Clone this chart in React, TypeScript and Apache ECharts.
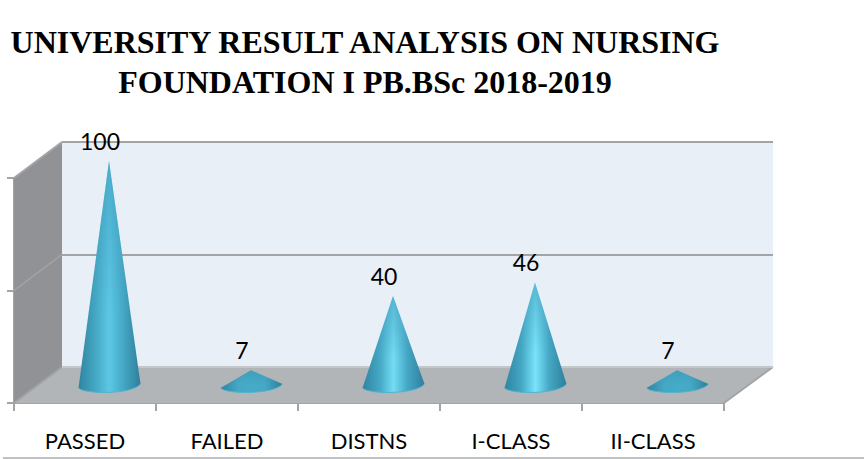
import React, { useEffect, useRef } from "react";
import * as echarts from "echarts";

const titleText = "UNIVERSITY RESULT ANALYSIS ON NURSING\nFOUNDATION I PB.BSc 2018-2019";
const categories = ["PASSED", "FAILED", "DISTNS", "I-CLASS", "II-CLASS"];
const values = [100, 7, 40, 46, 7];
const valueTicks = [0, 50, 100];

const W = 864, H = 459;
const front = { l: 14, r: 724, t: 178, b: 403 };
const back = { l: 62, r: 773, t: 142, b: 367 };
const highlight = ["#5cc8e6", "#45abc8", "#74dcf5", "#7ae4fb", "#45abc8"];
const LINE = "#a2a4a6";

function renderCone(_: any, api: any) {
  const i = api.value(0);
  const v = api.value(1);
  const base = api.coord([i, 0]);
  const top = api.coord([i, v]);
  const cx = base[0] + 24.5, cy = base[1] - 17;
  const ax = cx - 0.5, ay = top[1] - 17;
  const rx = 31, ry = 6.5, tilt = 2;
  const lx = cx - rx, ly = cy + tilt, rxx = cx + rx, ry2 = cy - tilt;
  const bottom = `C${lx + 6} ${cy + ry + 2} ${rxx - 8} ${cy + ry + 2} ${rxx} ${ry2}`;
  const d = `M${ax} ${ay}L${lx} ${ly}${bottom}Z`;
  const arc = `M${lx} ${ly}${bottom}`;
  const hl = highlight[i];
  const box = { x: lx, y: ay, width: rxx - lx, height: cy + ry - ay };
  return {
    type: "group",
    children: [
      {
        type: "path",
        shape: { pathData: d, ...box },
        style: {
          fill: new echarts.graphic.LinearGradient(0, 0, 1, 0, [
            { offset: 0, color: "#2f84a0" },
            { offset: 0.28, color: "#45a8c5" },
            { offset: 0.5, color: hl },
            { offset: 0.72, color: "#45a8c5" },
            { offset: 1, color: "#2d7f9a" },
          ]),
        },
      },
      {
        type: "path",
        shape: { pathData: d, ...box },
        style: {
          fill: new echarts.graphic.LinearGradient(0, 0, 0, 1, [
            { offset: 0, color: "rgba(60,150,180,0.55)" },
            { offset: 0.65, color: "rgba(60,150,180,0)" },
            { offset: 1, color: "rgba(60,150,180,0)" },
          ]),
        },
      },
      {
        type: "path",
        shape: { pathData: arc, x: lx, y: cy - tilt, width: rxx - lx, height: ry + tilt },
        style: { fill: "none", stroke: "#4fb4d0", lineWidth: 1 },
      },
      {
        type: "text",
        style: {
          x: ax - 9,
          y: ay - 20.5,
          text: String(v),
          fill: "#000",
          fontFamily: "Lato",
          fontSize: 23,
          align: "center",
          verticalAlign: "middle",
        },
      },
    ],
  };
}

export default function App() {
  const ref = useRef<HTMLDivElement>(null);
  useEffect(() => {
    document.body.style.margin = "0";
    const chart = echarts.init(ref.current!, undefined, { renderer: "svg" });
    const lineStyle = { stroke: LINE, lineWidth: 2 };
    const midY = (front.t + front.b) / 2;
    const backMid = (back.t + back.b) / 2;
    chart.setOption({
      animation: false,
      backgroundColor: "#fff",
      title: {
        text: titleText,
        left: 360,
        top: 17,
        textAlign: "center",
        textStyle: {
          fontFamily: "Liberation Serif",
          fontWeight: "bold",
          fontSize: 32,
          lineHeight: 40,
          color: "#000",
        },
      },
      grid: [
        { left: front.l, right: W - front.r, top: front.t, bottom: H - front.b },
        {
          left: back.l, right: W - back.r, top: back.t, bottom: H - back.b,
          show: true, backgroundColor: "#e8eff6", borderWidth: 0,
        },
      ],
      xAxis: [
        {
          type: "category",
          data: categories,
          gridIndex: 0,
          axisLine: { show: true, lineStyle: { color: LINE, width: 2 } },
          axisTick: { show: true, length: 8, lineStyle: { color: LINE, width: 2 } },
          axisLabel: { color: "#000", fontFamily: "Lato", fontSize: 22, margin: 26 },
        },
        { type: "category", data: categories, gridIndex: 1, show: false },
      ],
      yAxis: [
        {
          type: "value", gridIndex: 0, min: 0, max: 100, interval: valueTicks[1],
          axisLine: { show: true, lineStyle: { color: LINE, width: 2 } },
          axisTick: { show: true, length: 7, lineStyle: { color: LINE, width: 2 } },
          axisLabel: { show: false },
          splitLine: { show: false },
        },
        {
          type: "value", gridIndex: 1, min: 0, max: 100, interval: valueTicks[1],
          axisLine: { show: false }, axisTick: { show: false }, axisLabel: { show: false },
          splitLine: { show: true, lineStyle: { color: LINE, width: 2 } },
        },
      ],
      graphic: [
        {
          type: "polygon", z: 1,
          shape: { points: [[front.l, front.t], [back.l, back.t], [back.l, back.b], [front.l, front.b]] },
          style: { fill: "#909296" },
        },
        {
          type: "polygon", z: 1,
          shape: { points: [[back.l, back.b], [back.r, back.b], [front.r, front.b], [front.l, front.b]] },
          style: { fill: "#b1b5b8" },
        },
        { type: "line", z: 2, shape: { x1: front.l, y1: front.t, x2: back.l, y2: back.t }, style: lineStyle },
        { type: "line", z: 2, shape: { x1: front.l, y1: midY, x2: back.l, y2: backMid }, style: { stroke: "#a2a4a6", lineWidth: 1.5 } },
        { type: "line", z: 2, shape: { x1: front.l, y1: front.b, x2: back.l, y2: back.b }, style: lineStyle },
        { type: "line", z: 2, shape: { x1: front.r, y1: front.b, x2: back.r, y2: back.b }, style: lineStyle },
        { type: "line", z: 2, shape: { x1: back.l, y1: back.b, x2: back.r, y2: back.b }, style: { stroke: "#c4c7c9", lineWidth: 2 } },
        { type: "line", z: 2, shape: { x1: 3, y1: 458, x2: W, y2: 458 }, style: { stroke: "#aaacae", lineWidth: 1.5 } },
      ],
      series: [
        {
          type: "custom",
          xAxisIndex: 0,
          yAxisIndex: 0,
          z: 10,
          clip: false,
          silent: true,
          renderItem: renderCone,
          encode: { x: 0, y: 1 },
          data: values.map((v, i) => [i, v]),
        },
      ],
    });
    return () => chart.dispose();
  }, []);
  return <div ref={ref} style={{ width: W, height: H }} />;
}
